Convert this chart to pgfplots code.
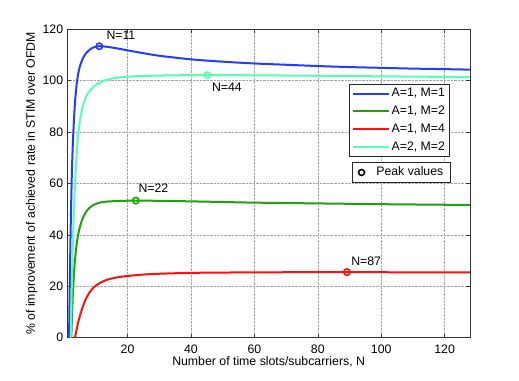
\documentclass[border=0pt]{standalone}
\usepackage{fontspec}
\setmainfont{Liberation Sans}
\usepackage{pgfplots}
\pgfplotsset{compat=1.18}

\definecolor{cA}{RGB}{35,60,255}
\definecolor{cB}{RGB}{35,160,15}
\definecolor{cC}{RGB}{255,15,15}
\definecolor{cD}{RGB}{85,255,180}

\pgfplotsset{
  matlab/.style={
    scale only axis, width=402.7bp, height=308.7bp,
    at={(0,0)}, anchor=south west,
    xmin=1, xmax=128, ymin=0, ymax=120,
    clip=true,
  },
  legline/.style={legend image code/.code={\draw[##1] (0bp,0bp) -- (36bp,0bp);}},
}

\begin{document}
\fontsize{12.3bp}{14bp}\selectfont
\begin{tikzpicture}
\path[use as bounding box] (-67.3bp,-43.3bp) rectangle (451.7bp,337.7bp);
\begin{axis}[matlab,
  xtick={20,40,...,120}, ytick={0,20,...,120},
  tick align=inside, major tick length=4bp,
  xtick pos=both, ytick pos=both,
  grid=major, major grid style={densely dotted, black!35, line width=0.6bp},
  axis line style={black!80, line width=0.8bp},
  tick style={black!80, line width=0.6bp},
  /pgf/number format/assume math mode=true,
  xlabel={Number of time slots/subcarriers, N},
  ylabel={\% of improvement of achieved rate in STIM over OFDM},
  xlabel style={at={(axis description cs:0.5,-0.0787)}, anchor=center, inner sep=0pt},
  ylabel style={at={(axis description cs:-0.0884,0.5)}, anchor=center, inner sep=0pt},
  xticklabel style={inner sep=0pt, yshift=-7bp},
  yticklabel style={inner sep=0pt, xshift=-4bp},
  legend style={at={(axis description cs:0.9486,0.8218)}, anchor=north east,
    draw=black!85, line width=0.7bp, fill=white, inner xsep=2bp, inner ysep=2bp,
    row sep=3.6bp, cells={anchor=west}},
  legline,
  every axis plot/.append style={smooth, tension=0.45},
]
\addplot[cA, line width=2bp] coordinates {
  (1.55,0)(2,38)(2.4,62)(2.8,77)(3.4,91)(4,99)(4.5,103)(5,105.6)(6,108.8)(7,110.7)
  (8,111.9)(9,112.7)(10,113.1)(11,113.3)(12,113.3)(14,113)(17,112.4)(20,111.7)
  (25,110.6)(30,109.6)(40,108.2)(50,107.3)(60,106.6)(70,106.1)(80,105.6)
  (90,105.2)(100,104.9)(110,104.6)(120,104.4)(128,104.2)};
\addlegendentry{A=1, M=1}
\addplot[cB, line width=2bp] coordinates {
  (2.26,0)(2.6,12)(3.1,25)(3.6,32.5)(4.2,38.5)(5,43.2)(5.7,45.9)(6.7,48.5)
  (7.85,50.3)(9.4,51.7)(12,52.7)(16,53.1)(22.6,53.3)(30,53.2)(40,53.0)(60,52.5)
  (80,52.2)(100,51.9)(128,51.6)};
\addlegendentry{A=1, M=2}
\addplot[cC, line width=2bp] coordinates {
  (3.43,0)(4,3.6)(4.7,7.2)(5.5,10.6)(6.3,13.4)(7,15.4)(7.85,17.3)(9.4,19.6)
  (11.3,21.3)(14,22.7)(17,23.5)(20,24)(27,24.7)(40,25.2)(60,25.4)(89,25.5)
  (110,25.4)(128,25.4)};
\addlegendentry{A=1, M=4}
\addplot[cD, line width=2bp] coordinates {
  (2.07,0)(2.6,30)(3.1,50)(3.6,64)(4.3,77)(5,84.5)(5.8,89.5)(7.1,94.1)(8,95.8)
  (9.2,97.4)(10.5,98.6)(12.4,99.8)(15,100.7)(17.6,101.2)(22,101.6)(27,101.8)
  (35,102)(45,102.1)(60,102)(80,101.8)(100,101.6)(128,101.3)};
\addlegendentry{A=2, M=2}
% peak markers
\addplot[cA, only marks, mark=o, mark size=3.2bp, line width=1.6bp, forget plot] coordinates {(11.1,113.3)};
\addplot[cB, only marks, mark=o, mark size=3.2bp, line width=1.6bp, forget plot] coordinates {(22.6,53.3)};
\addplot[cD, only marks, mark=o, mark size=3.2bp, line width=1.6bp, forget plot] coordinates {(45.2,102.1)};
\addplot[cC, only marks, mark=o, mark size=3.2bp, line width=1.6bp, forget plot] coordinates {(89.2,25.5)};
\node[anchor=west, inner sep=0pt] at (axis cs:13.3,117.6) {N=11};
\node[anchor=west, inner sep=0pt] at (axis cs:46.6,97.3) {N=44};
\node[anchor=west, inner sep=0pt] at (axis cs:23.4,58.1) {N=22};
\node[anchor=west, inner sep=0pt] at (axis cs:90.5,29.9) {N=87};
\end{axis}
\begin{axis}[matlab, hide axis,
  legend style={at={(axis description cs:0.952,0.570)}, anchor=north east,
    draw=black!85, line width=0.7bp, fill=white, inner xsep=5bp, inner ysep=3bp,
    /tikz/every odd column/.append style={column sep=9bp}},
  legend image code/.code={\draw[#1] (0bp,0bp) circle (3bp);},
]
\addplot[black, only marks, line width=1.6bp] coordinates {(-50,-50)};
\addlegendentry{Peak values\hspace{4bp}}
\end{axis}
\end{tikzpicture}
\end{document}
